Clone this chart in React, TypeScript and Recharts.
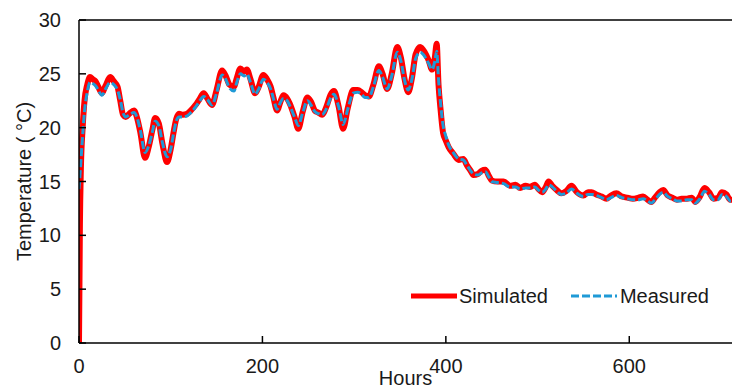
import { LineChart, Line, XAxis, YAxis, ReferenceLine } from "recharts";

const HOURS = [
  0, 1, 2, 4, 6, 9, 12, 15, 18, 21,
  25, 29, 34, 38, 42, 45, 48, 51, 55, 60,
  63, 67, 72, 76, 80, 83, 87, 91, 96, 100,
  103, 106, 109, 113, 118, 122, 127, 131, 136, 140,
  145, 150, 156, 160, 164, 169, 172, 176, 180, 183,
  187, 192, 196, 201, 205, 209, 212, 216, 220, 223,
  227, 230, 235, 239, 244, 249, 253, 257, 261, 265,
  270, 274, 278, 283, 288, 293, 299, 304, 308, 312,
  316, 321, 327, 331, 336, 341, 347, 351, 355, 359,
  363, 367, 372, 377, 381, 385, 388, 390, 392, 394,
  397, 400, 403, 408, 414, 419, 423, 427, 430, 435,
  439, 443, 447, 450, 456, 463, 470, 476, 481, 487,
  492, 497, 501, 505, 509, 512, 516, 521, 526, 531,
  537, 543, 550, 555, 559, 564, 570, 575, 580, 586,
  592, 598, 604, 610, 615, 620, 624, 628, 633, 637,
  642, 647, 652, 657, 663, 668, 672, 677, 682, 687,
  692, 697, 701, 706, 710, 712,
];

const SIMULATED = [
  0, 11, 16, 20, 22.5, 24.0, 24.7, 24.5, 24.3, 23.8,
  23.2, 23.9, 24.7, 24.3, 23.8, 22.5, 21.2, 21.0, 21.3, 21.6,
  21.0, 19.5, 17.2, 18.2, 19.8, 20.9, 20.4, 18.5, 16.8, 18.0,
  19.5, 20.8, 21.3, 21.2, 21.3, 21.6, 22.1, 22.6, 23.2, 22.7,
  22.1, 23.5, 25.3, 24.8, 24.0, 23.8, 24.6, 25.5, 25.2, 25.4,
  24.5, 23.2, 23.8, 24.9, 24.5, 23.8, 22.8, 21.6, 22.5, 23.0,
  22.7, 22.2, 21.0, 19.9, 21.5, 22.8, 22.4, 21.6, 21.4, 21.2,
  22.0, 23.0, 23.4, 22.0, 19.9, 21.8, 23.5, 23.5, 23.3, 23.0,
  22.9, 24.0, 25.7, 25.0, 23.6, 25.0, 27.5, 26.5, 24.5, 23.3,
  24.6, 26.8, 27.5, 27.0, 26.3, 25.4, 26.5, 27.8, 24.0, 21.9,
  19.5, 18.8, 18.2, 17.6, 17.0, 17.1, 16.5, 16.0, 15.6, 15.7,
  16.0, 16.1, 15.5, 15.1, 15.0, 15.0, 14.6, 14.7, 14.4, 14.6,
  14.5, 14.7, 14.3, 14.0, 14.5, 15.0, 14.6, 14.2, 13.9, 14.1,
  14.6, 14.0, 13.7, 14.0, 14.0, 13.8, 13.6, 13.4, 13.7, 13.9,
  13.6, 13.5, 13.4, 13.5, 13.6, 13.3, 13.1, 13.5, 14.0, 14.2,
  13.7, 13.5, 13.3, 13.4, 13.4, 13.5, 13.1, 13.6, 14.4, 14.0,
  13.4, 13.5, 14.0, 13.8, 13.3, 13.3,
];

const MEASURED = [
  14.3, 15.5, 16.8, 19.3, 21.5, 23.3, 24.2, 24.1, 23.9, 23.5,
  23.0, 23.6, 24.2, 24.0, 23.5, 22.6, 21.4, 21.0, 21.2, 21.4,
  21.0, 19.7, 17.7, 18.3, 19.6, 20.6, 20.2, 18.6, 17.3, 18.0,
  19.4, 20.6, 21.0, 21.0, 21.1, 21.4, 21.9, 22.4, 22.9, 22.6,
  22.1, 23.2, 24.9, 24.5, 23.7, 23.4, 24.2, 25.0, 24.8, 25.0,
  24.2, 23.1, 23.6, 24.5, 24.2, 23.6, 22.7, 21.7, 22.4, 22.7,
  22.5, 22.0, 21.0, 20.2, 21.4, 22.5, 22.1, 21.5, 21.3, 21.2,
  21.8, 22.7, 23.1, 22.0, 20.3, 21.7, 23.2, 23.3, 23.1, 22.8,
  22.8, 23.8, 25.3, 24.7, 23.6, 24.8, 27.0, 26.2, 24.4, 23.5,
  24.5, 26.4, 27.0, 26.6, 26.0, 25.4, 26.2, 27.1, 24.5, 22.5,
  20.2, 19.2, 18.4, 17.7, 17.1, 17.0, 16.5, 16.0, 15.7, 15.6,
  15.8, 15.9, 15.4, 15.0, 14.9, 14.8, 14.5, 14.5, 14.3, 14.4,
  14.4, 14.5, 14.2, 14.0, 14.3, 14.7, 14.5, 14.1, 13.8, 13.9,
  14.3, 13.9, 13.6, 13.8, 13.8, 13.7, 13.5, 13.3, 13.5, 13.7,
  13.5, 13.4, 13.3, 13.3, 13.4, 13.2, 13.0, 13.3, 13.8, 14.0,
  13.6, 13.4, 13.2, 13.2, 13.3, 13.3, 13.0, 13.4, 14.1, 13.8,
  13.3, 13.3, 13.8, 13.6, 13.2, 13.2,
];

const X_TICKS = [0, 200, 400, 600];
const Y_TICKS = [0, 5, 10, 15, 20, 25, 30];

const FONT = "'Liberation Sans', Arial, sans-serif";
const TEXT = "#1a1a1a";
const RED = "#ff0000";
const BLUE = "#1f9ad6";
const FS = 20;

const data = HOURS.map((h, i) => ({ h, sim: SIMULATED[i], meas: MEASURED[i] }));

// ticks point into the plot, so draw the mark with the label
const YTick = (p: any) => (
  <g>
    <line x1={p.x + 18} x2={p.x + 25} y1={p.y} y2={p.y} stroke="#000" strokeWidth={1.5} />
    <text x={p.x} y={p.y} dy={7} textAnchor="end" fontSize={FS} fill={TEXT} fontFamily={FONT}>
      {p.payload.value}
    </text>
  </g>
);

const XTick = (p: any) => (
  <g>
    <line x1={p.x} x2={p.x} y1={p.y - 14} y2={p.y - 21} stroke="#000" strokeWidth={1.5} />
    <text x={p.x} y={p.y} dy={16} textAnchor="middle" fontSize={FS} fill={TEXT} fontFamily={FONT}>
      {p.payload.value}
    </text>
  </g>
);

export default function App() {
  return (
    <div style={{ position: "absolute", left: 0, top: 0, width: 732, height: 390, background: "#fff" }}>
      <LineChart width={732} height={390} data={data} margin={{ top: 20, right: 0, left: 0, bottom: 0 }}>
        <XAxis
          dataKey="h"
          type="number"
          domain={[0, 712]}
          ticks={X_TICKS}
          allowDataOverflow
          height={47}
          tickLine={false}
          tickSize={0}
          tickMargin={14}
          tick={<XTick />}
          axisLine={{ stroke: "#000", strokeWidth: 1.5 }}
          label={{ value: "Hours", position: "insideBottom", offset: 5, fontSize: FS, fill: TEXT, fontFamily: FONT }}
        />
        <YAxis
          type="number"
          domain={[0, 30]}
          ticks={Y_TICKS}
          width={79}
          tickLine={false}
          tickSize={0}
          tickMargin={18}
          tick={<YTick />}
          axisLine={{ stroke: "#000", strokeWidth: 1.5 }}
          label={{
            value: "Temperature ( °C)",
            angle: -90,
            position: "center",
            dx: -16,
            fontSize: FS,
            fill: TEXT,
            fontFamily: FONT,
          }}
        />
        <ReferenceLine y={30} stroke="#000" strokeWidth={1.5} />
        <Line
          type="monotone"
          dataKey="sim"
          name="Simulated"
          stroke={RED}
          strokeWidth={6}
          dot={false}
          isAnimationActive={false}
        />
        <Line
          type="monotone"
          dataKey="meas"
          name="Measured"
          stroke={BLUE}
          strokeWidth={3}
          strokeDasharray="8 3"
          dot={false}
          isAnimationActive={false}
        />
      </LineChart>
      <div
        style={{
          position: "absolute",
          left: 410,
          top: 284,
          display: "flex",
          alignItems: "center",
          fontFamily: FONT,
          fontSize: FS,
          color: TEXT,
          lineHeight: "24px",
        }}
      >
        <svg width={48} height={10}>
          <line x1={1} x2={47} y1={5} y2={5} stroke={RED} strokeWidth={5} />
        </svg>
        <span style={{ marginLeft: 1 }}>Simulated</span>
        <svg width={48} height={10} style={{ marginLeft: 22 }}>
          <line x1={1} x2={47} y1={5} y2={5} stroke={BLUE} strokeWidth={3} strokeDasharray="8 3" />
        </svg>
        <span style={{ marginLeft: 2 }}>Measured</span>
      </div>
    </div>
  );
}
